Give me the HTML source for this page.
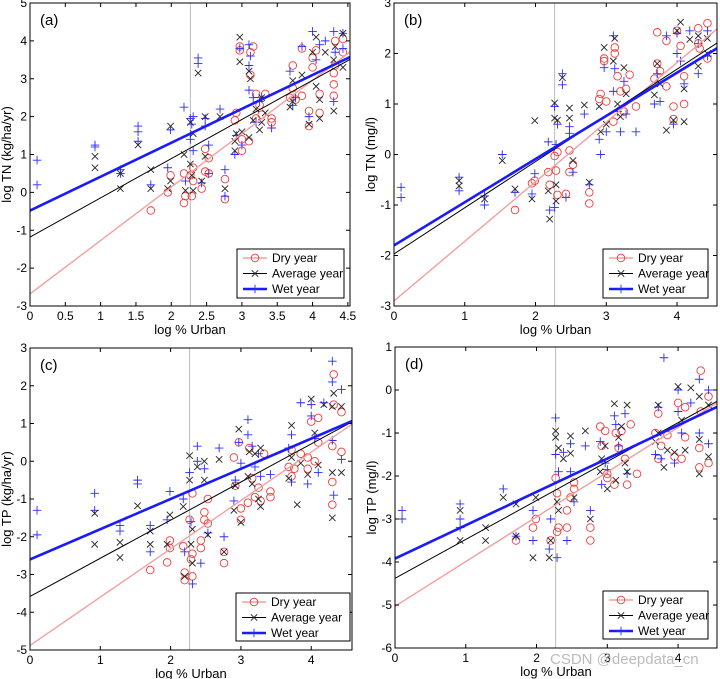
<!DOCTYPE html>
<html><head><meta charset="utf-8">
<style>
html,body{margin:0;padding:0;background:#fff;}
svg{display:block;font-family:"Liberation Sans",Arial,sans-serif;}
</style></head>
<body>
<svg id="fig" width="720" height="679" viewBox="0 0 720 679" xmlns="http://www.w3.org/2000/svg"></svg>
<script>
// ---------- data ----------
const panelLetters = ["(a)","(b)","(c)","(d)"];
const yLabels = ["log TN (kg/ha/yr)","log  TN (mg/l)","log TP (kg/ha/yr)","log TP (mg/l)"];
const yTicksA = [-3,-2,-1,0,1,2,3,4,5];
const yTicksB = [-3,-2,-1,0,1,2,3];
const yTicksC = [-5,-4,-3,-2,-1,0,1,2,3];
const yTicksD = [-6,-5,-4,-3,-2,-1,0,1];
const xTicksA = [0,0.5,1,1.5,2,2.5,3,3.5,4,4.5];
const xTicksOther = [0,1,2,3,4];
const seriesNames = ["Dry year","Average year","Wet year"];
const thresholdX = 2.27;
// regression intercepts [dry, avg, wet] and slopes
const interceptA = [-2.68,-1.18,-0.48];
const slopeA = [1.41,1.035,0.895];
const interceptB = [-2.9,-1.97,-1.8];
const slopeB = [1.18,0.915,0.855];
const interceptC = [-4.88,-3.58,-2.6];
const slopeC = [1.28,1.01,0.80];
const interceptD = [-5.03,-4.38,-3.92];
const slopeD = [1.04,0.905,0.775];

const dryA=[[1.71,-0.48],[1.95,0.0],[1.99,0.45],[2.18,-0.28],[2.18,0.5],[2.2,-0.1],[2.27,0.45],[2.29,-0.1],[2.31,0.3],[2.31,0.65],[2.43,0.1],[2.48,1.15],[2.48,0.55],[2.53,0.9],[2.53,0.5],[2.76,0.35],[2.76,-0.18],[2.9,1.9],[2.92,2.1],[2.97,3.75],[2.97,3.85],[3.0,1.1],[3.0,1.4],[3.1,1.35],[3.12,3.7],[3.16,3.85],[3.12,3.1],[3.2,2.6],[3.2,1.95],[3.25,2.3],[3.28,2.05],[3.33,2.6],[3.42,1.95],[3.42,1.85],[3.68,2.5],[3.72,3.35],[3.72,2.75],[3.76,2.45],[3.85,3.8],[3.85,2.55],[3.95,2.15],[3.95,1.75],[4.0,3.3],[4.0,3.55],[4.05,3.75],[4.1,2.6],[4.1,2.1],[4.3,2.85],[4.3,3.15],[4.3,2.55],[4.32,4.0],[4.32,3.35],[4.43,3.7],[4.43,4.05]];
const avgA=[[0.92,0.95],[0.92,0.65],[1.28,0.1],[1.28,0.5],[1.53,1.25],[1.71,0.6],[1.71,0.1],[1.95,0.1],[1.99,1.75],[1.99,0.3],[2.18,1.0],[2.2,0.05],[2.27,1.85],[2.27,0.75],[2.29,0.45],[2.31,1.55],[2.31,0.05],[2.38,3.15],[2.48,2.0],[2.48,0.95],[2.43,0.3],[2.69,2.0],[2.76,0.1],[2.9,1.1],[2.9,1.35],[2.92,1.55],[2.97,4.1],[2.97,3.45],[3.0,1.6],[3.1,3.2],[3.12,3.0],[3.1,1.45],[3.16,1.9],[3.2,2.2],[3.25,1.65],[3.28,2.5],[3.28,1.85],[3.33,2.1],[3.68,2.25],[3.72,2.95],[3.72,2.4],[3.85,3.1],[3.95,1.8],[4.0,3.7],[4.05,4.1],[4.05,2.8],[4.1,1.95],[4.1,2.45],[4.18,3.7],[4.3,3.5],[4.3,2.15],[4.32,3.85],[4.43,4.2],[4.43,3.3]];
const wetA=[[0.1,0.85],[0.1,0.2],[0.92,1.25],[0.92,1.2],[1.28,0.6],[1.28,0.5],[1.53,1.75],[1.53,1.6],[1.53,1.35],[1.71,0.2],[1.95,0.65],[1.99,1.65],[2.18,2.25],[2.2,0.3],[2.27,1.95],[2.27,1.4],[2.29,1.8],[2.31,2.0],[2.31,1.1],[2.38,3.55],[2.38,3.4],[2.43,0.25],[2.48,1.95],[2.48,1.75],[2.53,1.25],[2.53,0.5],[2.69,2.2],[2.76,0.6],[2.76,-0.1],[2.9,1.0],[2.92,1.5],[2.97,3.8],[3.0,1.25],[3.1,3.9],[3.1,3.35],[3.1,2.7],[3.12,3.6],[3.16,2.5],[3.2,1.85],[3.25,2.4],[3.28,2.5],[3.42,1.7],[3.68,3.2],[3.72,2.3],[3.76,2.5],[3.85,3.85],[3.95,2.0],[4.0,4.25],[4.05,3.5],[4.1,3.9],[4.18,4.0],[4.3,4.25],[4.3,2.4],[4.32,3.7],[4.43,4.2],[4.43,3.8]];

const dryB=[[1.71,-1.1],[1.95,-0.57],[1.99,-0.52],[2.18,-0.35],[2.2,-0.6],[2.27,-0.03],[2.29,-0.32],[2.31,0.05],[2.31,-0.8],[2.43,-0.78],[2.48,0.08],[2.48,-0.35],[2.53,-0.2],[2.76,-0.97],[2.76,-0.75],[2.9,1.1],[2.92,1.2],[2.97,1.85],[2.97,1.9],[3.0,1.05],[3.1,0.65],[3.12,2.12],[3.12,2.0],[3.16,1.55],[3.2,1.25],[3.25,0.85],[3.28,1.3],[3.33,1.58],[3.42,0.95],[3.68,1.5],[3.72,2.42],[3.72,1.8],[3.76,1.65],[3.85,1.35],[3.85,2.25],[3.95,0.95],[3.95,0.7],[4.0,2.45],[4.05,2.15],[4.1,1.55],[4.1,1.0],[4.3,2.5],[4.3,2.2],[4.32,2.1],[4.43,2.6],[4.43,1.9]];
const avgB=[[0.92,-0.52],[0.92,-0.62],[1.28,-0.88],[1.53,-0.12],[1.71,-0.68],[1.95,-0.88],[1.99,0.67],[2.18,-0.72],[2.2,-1.28],[2.27,1.02],[2.27,0.72],[2.29,-0.6],[2.29,-0.92],[2.31,0.68],[2.38,1.52],[2.48,0.92],[2.48,0.72],[2.53,-0.12],[2.69,0.98],[2.76,-0.55],[2.9,0.95],[2.92,0.45],[2.97,2.12],[3.0,0.6],[3.1,1.85],[3.12,2.3],[3.16,1.0],[3.2,0.75],[3.25,1.72],[3.28,1.2],[3.68,1.18],[3.72,1.8],[3.76,1.4],[3.85,0.48],[3.95,0.68],[4.0,2.45],[4.05,2.62],[4.1,1.3],[4.1,0.65],[4.18,2.28],[4.3,1.75],[4.3,2.35],[4.43,2.3],[4.43,2.0]];
const wetB=[[0.1,-0.65],[0.1,-0.85],[0.92,-0.45],[0.92,-0.72],[1.28,-0.82],[1.28,-1.0],[1.53,0.0],[1.71,-0.75],[1.95,-0.78],[1.99,-0.38],[2.18,0.25],[2.2,-1.1],[2.27,0.95],[2.27,-1.05],[2.29,0.2],[2.31,0.6],[2.38,1.6],[2.38,1.38],[2.43,-0.85],[2.48,0.55],[2.48,0.42],[2.53,-0.35],[2.69,0.8],[2.76,-0.6],[2.9,0.3],[2.92,0.0],[2.97,1.72],[3.0,0.45],[3.1,2.35],[3.1,1.25],[3.12,1.7],[3.16,0.85],[3.2,0.45],[3.25,1.45],[3.28,0.8],[3.42,0.45],[3.68,1.0],[3.72,1.6],[3.76,1.05],[3.85,2.35],[3.95,0.6],[4.0,2.4],[4.0,2.0],[4.05,1.85],[4.1,1.4],[4.18,2.45],[4.3,1.6],[4.3,2.2],[4.43,2.45],[4.43,1.95]];

const dryC=[[1.71,-2.88],[1.95,-2.68],[1.99,-2.1],[1.99,-2.3],[2.18,-2.25],[2.2,-3.15],[2.2,-2.95],[2.27,-1.55],[2.29,-2.6],[2.31,-0.85],[2.31,-3.05],[2.31,-2.45],[2.43,-2.3],[2.43,-2.1],[2.48,-1.35],[2.48,-1.55],[2.53,-1.0],[2.53,-1.65],[2.76,-2.7],[2.76,-2.4],[2.9,0.1],[2.92,-0.65],[2.97,0.5],[3.0,-1.25],[3.0,-1.55],[3.1,-1.1],[3.12,0.35],[3.16,-0.45],[3.2,-0.95],[3.25,-0.7],[3.28,-1.05],[3.33,0.2],[3.42,-0.8],[3.42,-0.95],[3.68,-0.15],[3.72,0.3],[3.72,-0.4],[3.76,-0.2],[3.85,0.2],[3.95,-0.2],[3.95,0.1],[4.0,1.05],[4.05,0.0],[4.1,1.15],[4.1,0.5],[4.3,0.4],[4.3,-0.55],[4.3,-1.15],[4.32,2.3],[4.32,1.5],[4.43,1.3],[4.43,0.25]];
const avgC=[[0.92,-1.38],[0.92,-2.2],[1.28,-2.15],[1.28,-2.55],[1.53,-1.18],[1.71,-1.85],[1.71,-2.2],[1.95,-2.2],[1.99,-1.42],[2.18,-1.2],[2.2,-3.05],[2.27,0.15],[2.27,-0.5],[2.29,-2.2],[2.31,-2.7],[2.31,-1.8],[2.38,-0.15],[2.48,0.0],[2.48,-0.5],[2.53,-1.95],[2.69,0.05],[2.76,-2.4],[2.9,-1.3],[2.92,-0.65],[2.97,0.85],[3.0,-1.62],[3.1,-0.4],[3.12,0.25],[3.16,-0.6],[3.2,0.2],[3.25,-1.0],[3.28,-1.2],[3.28,0.35],[3.68,-0.45],[3.72,0.95],[3.72,0.1],[3.85,-0.05],[3.8,-1.15],[3.95,-0.35],[4.0,1.65],[4.05,0.75],[4.1,-0.1],[4.18,1.5],[4.3,1.45],[4.3,-0.3],[4.3,-1.5],[4.32,1.8],[4.43,1.45],[4.43,-0.3]];
const wetC=[[0.1,-1.3],[0.1,-1.95],[0.92,-0.85],[0.92,-1.3],[1.28,-1.7],[1.28,-1.85],[1.53,-0.5],[1.53,-0.6],[1.71,-1.7],[1.71,-2.4],[1.95,-1.55],[1.99,-0.8],[2.18,-1.0],[2.2,-2.4],[2.27,-0.3],[2.29,-1.6],[2.31,-3.25],[2.38,0.4],[2.38,0.0],[2.43,-2.7],[2.48,-0.2],[2.53,-1.9],[2.69,0.35],[2.76,-2.0],[2.9,-1.05],[2.92,-0.5],[2.97,0.5],[3.0,-0.05],[3.1,1.1],[3.1,0.7],[3.16,0.4],[3.2,-0.15],[3.25,0.2],[3.28,-0.4],[3.42,-0.35],[3.68,0.35],[3.72,0.7],[3.72,-0.55],[3.85,1.55],[3.95,-0.6],[4.0,1.5],[4.0,1.2],[4.05,0.6],[4.1,-0.3],[4.18,1.55],[4.3,2.65],[4.3,2.1],[4.32,-0.9],[4.3,0.55],[4.43,1.9],[4.43,0.05]];

const dryD=[[1.71,-3.5],[1.95,-3.2],[1.99,-3.0],[2.2,-3.5],[2.27,-2.05],[2.29,-3.3],[2.29,-2.4],[2.31,-3.2],[2.43,-2.8],[2.43,-3.2],[2.48,-2.5],[2.53,-2.15],[2.53,-2.3],[2.76,-3.5],[2.76,-3.2],[2.9,-0.85],[2.92,-1.3],[2.97,-0.95],[3.0,-2.05],[3.0,-1.95],[3.1,-2.2],[3.12,-1.0],[3.16,-1.35],[3.2,-0.95],[3.25,-1.6],[3.28,-2.2],[3.33,-0.8],[3.42,-1.95],[3.68,-1.0],[3.72,-0.55],[3.72,-1.6],[3.76,-1.3],[3.85,-1.05],[3.95,-1.55],[4.0,-0.3],[4.05,-1.6],[4.1,-1.1],[4.1,-0.4],[4.3,-1.35],[4.3,-1.8],[4.32,0.45],[4.32,-0.5],[4.43,-1.7],[4.43,-0.15]];
const avgD=[[0.92,-2.8],[0.92,-3.5],[1.28,-3.5],[1.28,-3.2],[1.53,-2.5],[1.71,-2.65],[1.71,-3.4],[1.95,-3.9],[1.99,-2.5],[2.18,-3.9],[2.2,-3.5],[2.27,-0.95],[2.27,-1.1],[2.29,-2.6],[2.31,-1.35],[2.31,-2.8],[2.38,-1.6],[2.48,-1.07],[2.48,-1.47],[2.53,-2.5],[2.69,-0.95],[2.76,-3.0],[2.9,-1.9],[2.92,-1.6],[2.97,-1.3],[3.0,-2.3],[3.1,-0.32],[3.12,-2.1],[3.16,-1.1],[3.2,-0.85],[3.25,-1.7],[3.28,-0.35],[3.28,-1.9],[3.68,-1.2],[3.72,-0.35],[3.72,-1.0],[3.8,-1.8],[3.85,-1.4],[3.95,-1.45],[4.0,0.08],[4.05,-0.7],[4.1,-1.4],[4.18,0.05],[4.3,-0.15],[4.3,-1.15],[4.3,-1.95],[4.43,-0.35],[4.43,-1.55]];
const wetD=[[0.1,-2.8],[0.1,-3.0],[0.92,-2.65],[0.92,-3.0],[0.92,-3.2],[1.53,-2.3],[1.71,-3.4],[1.95,-2.8],[1.95,-3.5],[2.18,-3.7],[2.2,-3.0],[2.27,-0.65],[2.27,-1.5],[2.29,-3.9],[2.31,-1.9],[2.38,-1.45],[2.43,-3.5],[2.48,-1.25],[2.48,-1.9],[2.53,-2.6],[2.69,-1.3],[2.76,-2.8],[2.9,-1.2],[2.92,-2.2],[2.97,-1.7],[3.0,-1.85],[3.1,-0.6],[3.12,-0.8],[3.16,-1.3],[3.25,-0.55],[3.28,-1.95],[3.68,-1.5],[3.72,-0.4],[3.76,-1.6],[3.8,0.75],[3.95,-1.7],[4.0,-0.5],[4.0,0.0],[4.05,-1.0],[4.18,-0.3],[4.3,0.25],[4.3,-1.0],[4.43,0.0],[4.43,-1.25]];

// ---------- layout ----------
const NS="http://www.w3.org/2000/svg";
const svg=document.getElementById('fig');
function mk(tag,attrs,parent){const e=document.createElementNS(NS,tag);for(const k in attrs)e.setAttribute(k,attrs[k]);(parent||svg).appendChild(e);return e;}

const panels=[
 {id:'a',L:30,R:350,T:3,B:306,xmax:4.53,ymin:-3,ymax:5,yt:yTicksA,xt:xTicksA,ic:interceptA,sl:slopeA,data:[dryA,avgA,wetA],leg:[237,249,107,49]},
 {id:'b',L:394,R:717,T:3,B:306,xmax:4.565,ymin:-3,ymax:3,yt:yTicksB,xt:xTicksOther,ic:interceptB,sl:slopeB,data:[dryB,avgB,wetB],leg:[603,249,105,49]},
 {id:'c',L:30,R:352,T:348,B:650,xmax:4.58,ymin:-5,ymax:3,yt:yTicksC,xt:xTicksOther,ic:interceptC,sl:slopeC,data:[dryC,avgC,wetC],leg:[236,593,114,48]},
 {id:'d',L:395,R:717,T:347,B:648,xmax:4.55,ymin:-6,ymax:1,yt:yTicksD,xt:xTicksOther,ic:interceptD,sl:slopeD,data:[dryD,avgD,wetD],leg:[603,591,105,48]}
];
const colors=['#f03c3c','#222','#2b2bff'];
const lineColors=['#f2a0a0','#000','#1a1aff'];
const lineW=[1.4,1,2.6];

function marker(g,type,px,py){
  if(type===0){const c=mk('circle',{cx:px,cy:py,r:3.8,fill:'none',stroke:colors[0],'stroke-width':0.9},g);}
  else if(type===1){const s=3.2;const p=mk('path',{d:`M${px-s},${py-s}L${px+s},${py+s}M${px-s},${py+s}L${px+s},${py-s}`,stroke:colors[1],'stroke-width':0.9,fill:'none'},g);}
  else {const s=4.3;const p=mk('path',{d:`M${px-s},${py}L${px+s},${py}M${px},${py-s}L${px},${py+s}`,stroke:colors[2],'stroke-width':0.9,fill:'none'},g);}
}

panels.forEach((P,pi)=>{
  const g=mk('g',{});
  
  
  const sx=v=>P.L+(v/P.xmax)*(P.R-P.L);
  const sy=v=>P.B-(v-P.ymin)/(P.ymax-P.ymin)*(P.B-P.T);
  const clip='clip'+P.id;
  const cp=mk('clipPath',{id:clip},g);mk('rect',{x:P.L,y:P.T,width:P.R-P.L,height:P.B-P.T},cp);
  const tl=mk('line',{x1:sx(thresholdX),x2:sx(thresholdX),y1:P.T,y2:P.B,stroke:'#bbb','stroke-width':1},g);
  
  
  const pg=mk('g',{'clip-path':`url(#${clip})`},g);
  
  
  [0,2,1].forEach(s=>P.data[s].forEach(d=>marker(pg,s,sx(d[0]),sy(d[1]))));
  [0,1,2].forEach(s=>{
    const l=mk('line',{x1:sx(0),y1:sy(P.ic[s]),x2:sx(P.xmax),y2:sy(P.ic[s]+P.sl[s]*P.xmax),stroke:lineColors[s],'stroke-width':lineW[s],'clip-path':`url(#${clip})`},g);
    
    
  });
  const fr=mk('rect',{x:P.L,y:P.T,width:P.R-P.L,height:P.B-P.T,fill:'none',stroke:'#000','stroke-width':1},g);
  
  
  P.yt.forEach(v=>{
    const y=sy(v);
    mk('path',{d:`M${P.L},${y}h4M${P.R},${y}h-4`,stroke:'#000','stroke-width':1},g);
    const t=mk('text',{x:P.L-3,y:y+4,'text-anchor':'end','font-size':12},g);t.textContent=v;
    
    
  });
  P.xt.forEach(v=>{
    const x=sx(v);
    mk('path',{d:`M${x},${P.B}v-4M${x},${P.T}v4`,stroke:'#000','stroke-width':1},g);
    const t=mk('text',{x:x,y:P.B+14,'text-anchor':'middle','font-size':12},g);t.textContent=v;
    
    
  });
  const lt=mk('text',{x:P.L+10,y:P.T+22,'font-size':15},g);lt.textContent=panelLetters[pi];
  
  
  const xt=mk('text',{x:(P.L+P.R)/2,y:P.B+28,'text-anchor':'middle','font-size':13},g);xt.textContent='log % Urban';
  
  
  const yx=P.L-19, yy=(P.T+P.B)/2;
  const yt=mk('text',{x:yx,y:yy,'text-anchor':'middle','font-size':13,transform:`rotate(-90 ${yx} ${yy})`},g);yt.textContent=yLabels[pi];
  
  
  const [lx,ly,lw,lh]=P.leg;
  const lg=mk('g',{},g);
  
  
  mk('rect',{x:lx,y:ly,width:lw,height:lh,fill:'#fff',stroke:'#000','stroke-width':1},lg);
  seriesNames.forEach((n,s)=>{
    const yy2=ly+9+s*15.5;
    const e=mk('g',{},lg);
    
    
    mk('line',{x1:lx+6,x2:lx+30,y1:yy2,y2:yy2,stroke:lineColors[s],'stroke-width':lineW[s]},e);
    marker(e,s,lx+18,yy2);
    const t=mk('text',{x:lx+35,y:yy2+4,'font-size':12},e);t.textContent=n;
  });
});
const wm=mk('text',{x:550,y:664,'font-size':15,fill:'#aaa','fill-opacity':0.8});
wm.textContent='CSDN @deepdata_cn';


</script>
</body></html>
